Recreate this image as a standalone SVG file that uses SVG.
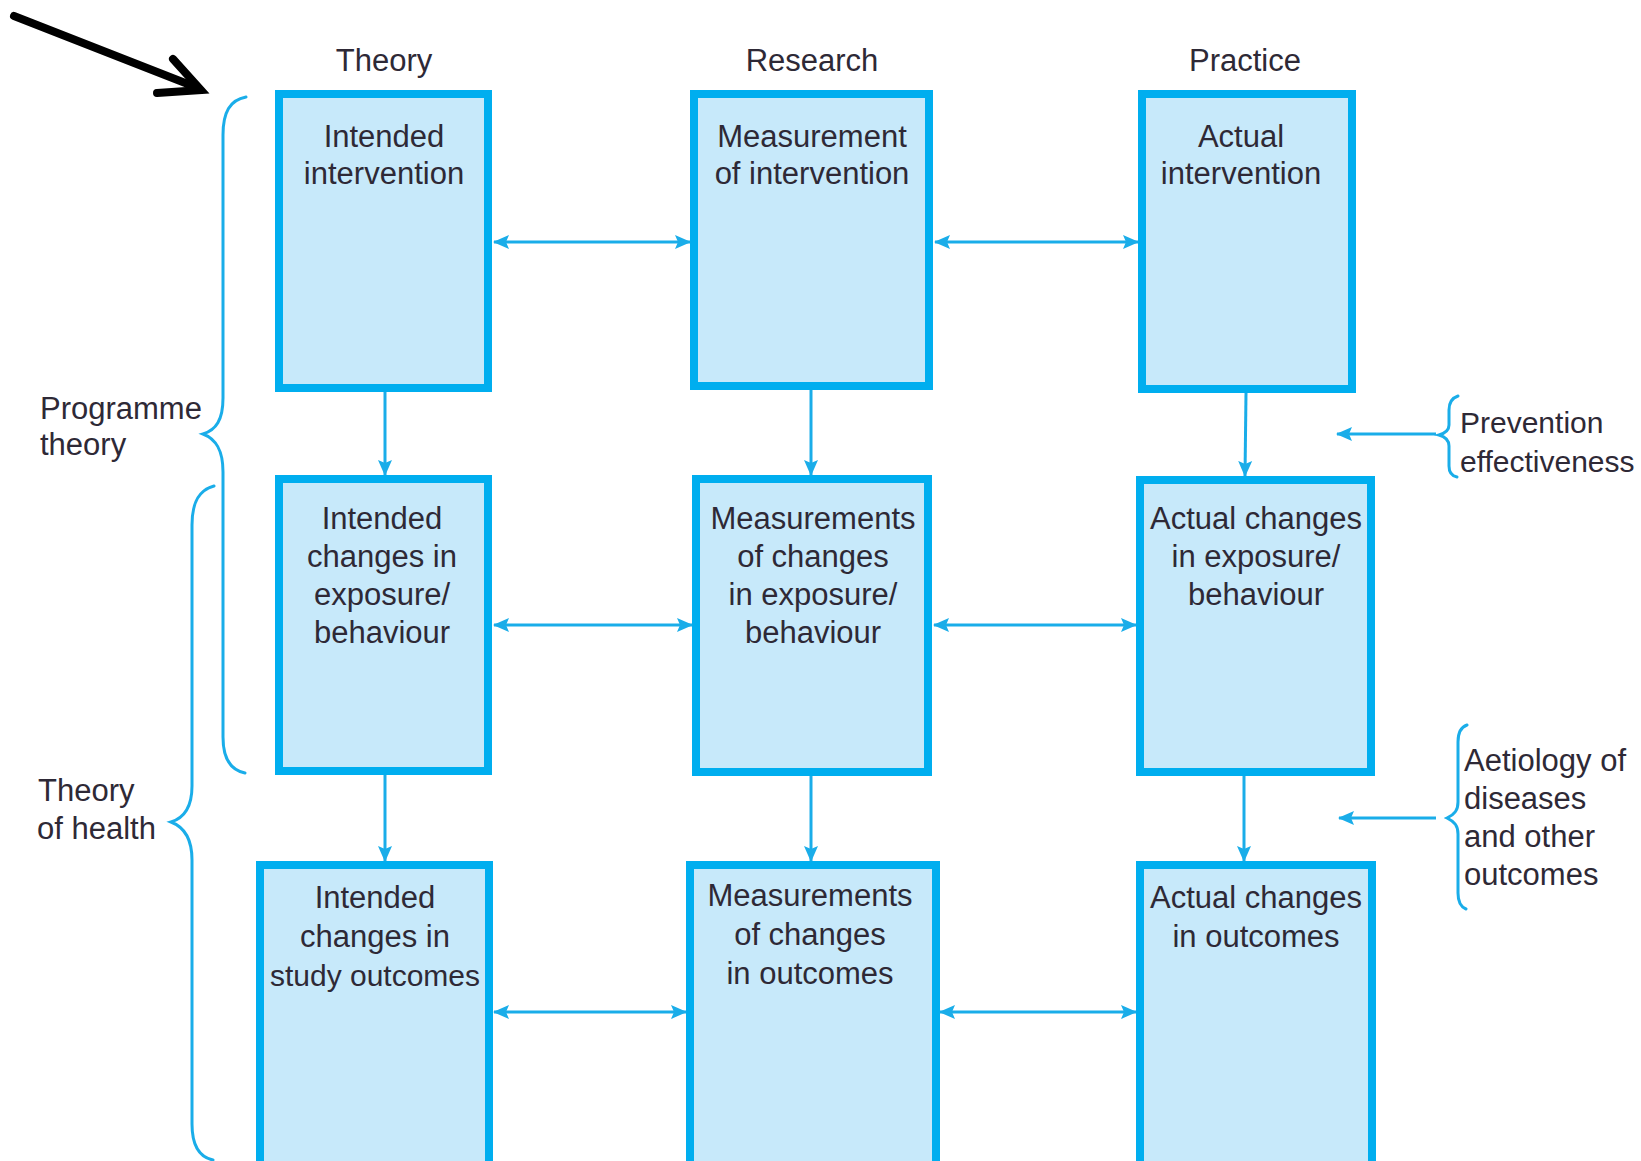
<svg xmlns="http://www.w3.org/2000/svg" width="1641" height="1161" viewBox="0 0 1641 1161">
  <style>
    .box { fill: #c7e9fa; stroke: #00aeef; stroke-width: 8; }
    .lbl { font-family: "Liberation Sans", Arial, sans-serif; font-size: 31px; fill: #2e2936; }
    .mid { text-anchor: middle; }
    .conn { stroke: #1aade9; stroke-width: 3; fill: none; }
    .brace { stroke: #1aade9; stroke-width: 3; fill: none; stroke-linecap: round; }
  </style>
  <defs>
    <marker id="head" viewBox="0 0 16 16" refX="15" refY="8" markerWidth="16" markerHeight="16" markerUnits="userSpaceOnUse" orient="auto-start-reverse">
      <path d="M0,1 L16,8 L0,15 L3,8 z" fill="#1aade9"/>
    </marker>
  </defs>
  <rect width="1641" height="1161" fill="#ffffff"/>

  <!-- pointer arrow, top left -->
  <g id="pointer" stroke="#000000" stroke-width="8" fill="none" stroke-linecap="round" stroke-linejoin="miter">
    <line x1="14" y1="16" x2="198" y2="88"/>
    <polyline points="173,59 201,90 157,93"/>
  </g>

  <!-- column headings -->
  <g id="headings" class="lbl mid">
    <text x="384" y="71">Theory</text>
    <text x="812" y="71">Research</text>
    <text x="1245" y="71">Practice</text>
  </g>

  <!-- row 1 -->
  <g id="intended-intervention">
    <rect class="box" x="279" y="94" width="209" height="294"/>
    <text class="lbl mid" x="384" y="147">Intended</text>
    <text class="lbl mid" x="384" y="184">intervention</text>
  </g>
  <g id="measurement-of-intervention">
    <rect class="box" x="694" y="94" width="235" height="292"/>
    <text class="lbl mid" x="812" y="147">Measurement</text>
    <text class="lbl mid" x="812" y="184">of intervention</text>
  </g>
  <g id="actual-intervention">
    <rect class="box" x="1142" y="94" width="210" height="295"/>
    <text class="lbl mid" x="1241" y="147">Actual</text>
    <text class="lbl mid" x="1241" y="184">intervention</text>
  </g>

  <!-- row 2 -->
  <g id="intended-changes-exposure">
    <rect class="box" x="279" y="479" width="209" height="292"/>
    <text class="lbl mid" x="382" y="529">Intended</text>
    <text class="lbl mid" x="382" y="567">changes in</text>
    <text class="lbl mid" x="382" y="605">exposure/</text>
    <text class="lbl mid" x="382" y="643">behaviour</text>
  </g>
  <g id="measurements-changes-exposure">
    <rect class="box" x="696" y="479" width="232" height="293"/>
    <text class="lbl mid" x="813" y="529">Measurements</text>
    <text class="lbl mid" x="813" y="567">of changes</text>
    <text class="lbl mid" x="813" y="605">in exposure/</text>
    <text class="lbl mid" x="813" y="643">behaviour</text>
  </g>
  <g id="actual-changes-exposure">
    <rect class="box" x="1140" y="480" width="231" height="292"/>
    <text class="lbl mid" x="1256" y="529">Actual changes</text>
    <text class="lbl mid" x="1256" y="567">in exposure/</text>
    <text class="lbl mid" x="1256" y="605">behaviour</text>
  </g>

  <!-- row 3 (runs off the bottom edge) -->
  <g id="intended-changes-outcomes">
    <rect class="box" x="260" y="865" width="229" height="300"/>
    <text class="lbl mid" x="375" y="908">Intended</text>
    <text class="lbl mid" x="375" y="947">changes in</text>
    <text class="lbl mid" x="375" y="986" style="font-size:30px">study outcomes</text>
  </g>
  <g id="measurements-changes-outcomes">
    <rect class="box" x="690" y="865" width="246" height="300"/>
    <text class="lbl mid" x="810" y="906">Measurements</text>
    <text class="lbl mid" x="810" y="945">of changes</text>
    <text class="lbl mid" x="810" y="984">in outcomes</text>
  </g>
  <g id="actual-changes-outcomes">
    <rect class="box" x="1140" y="865" width="232" height="300"/>
    <text class="lbl mid" x="1256" y="908">Actual changes</text>
    <text class="lbl mid" x="1256" y="947">in outcomes</text>
  </g>

  <!-- connectors -->
  <g id="connectors" class="conn">
    <!-- horizontal, two-headed -->
    <line x1="494" y1="242" x2="690" y2="242" marker-start="url(#head)" marker-end="url(#head)"/>
    <line x1="935" y1="242" x2="1138" y2="242" marker-start="url(#head)" marker-end="url(#head)"/>
    <line x1="494" y1="625" x2="692" y2="625" marker-start="url(#head)" marker-end="url(#head)"/>
    <line x1="934" y1="625" x2="1136" y2="625" marker-start="url(#head)" marker-end="url(#head)"/>
    <line x1="494" y1="1012" x2="686" y2="1012" marker-start="url(#head)" marker-end="url(#head)"/>
    <line x1="940" y1="1012" x2="1136" y2="1012" marker-start="url(#head)" marker-end="url(#head)"/>
    <!-- vertical, downward -->
    <line x1="385" y1="392" x2="385" y2="475" marker-end="url(#head)"/>
    <line x1="811" y1="390" x2="811" y2="475" marker-end="url(#head)"/>
    <line x1="1246" y1="393" x2="1245" y2="476" marker-end="url(#head)"/>
    <line x1="385" y1="775" x2="385" y2="861" marker-end="url(#head)"/>
    <line x1="811" y1="776" x2="811" y2="861" marker-end="url(#head)"/>
    <line x1="1244" y1="776" x2="1244" y2="861" marker-end="url(#head)"/>
    <!-- side annotations pointing left -->
    <line x1="1436" y1="434" x2="1337" y2="434" marker-end="url(#head)"/>
    <line x1="1436" y1="818" x2="1339" y2="818" marker-end="url(#head)"/>
  </g>

  <!-- braces -->
  <g id="braces" class="brace">
    <path d="M246,97 C230,100 223,112 223,135 L223,398 C223,420 216,430 203,434 C216,439 223,450 223,472 L223,737 C223,758 230,770 245,773"/>
    <path d="M214,486 C199,490 192,502 192,525 L192,786 C192,808 184,818 171,822 C184,827 192,838 192,860 L192,1124 C192,1146 199,1157 213,1160"/>
    <path d="M1458,396 C1452,398 1449,402 1449,410 L1449,425 C1449,430 1446,433 1439,435 C1446,437 1449,440 1449,446 L1449,466 C1449,473 1452,476 1457,477"/>
    <path d="M1467,725 C1461,727 1458,732 1458,742 L1458,802 C1458,810 1455,814 1447,818 C1455,822 1458,826 1458,834 L1458,893 C1458,903 1461,907 1466,909"/>
  </g>

  <!-- brace labels -->
  <g id="programme-theory" class="lbl">
    <text x="40" y="419">Programme</text>
    <text x="40" y="455">theory</text>
  </g>
  <g id="theory-of-health" class="lbl">
    <text x="38" y="801">Theory</text>
    <text x="37" y="839">of health</text>
  </g>
  <g id="prevention-effectiveness" class="lbl" style="font-size:30px">
    <text x="1460" y="433">Prevention</text>
    <text x="1460" y="472">effectiveness</text>
  </g>
  <g id="aetiology" class="lbl">
    <text x="1464" y="771">Aetiology of</text>
    <text x="1464" y="809">diseases</text>
    <text x="1464" y="847">and other</text>
    <text x="1464" y="885">outcomes</text>
  </g>
</svg>
